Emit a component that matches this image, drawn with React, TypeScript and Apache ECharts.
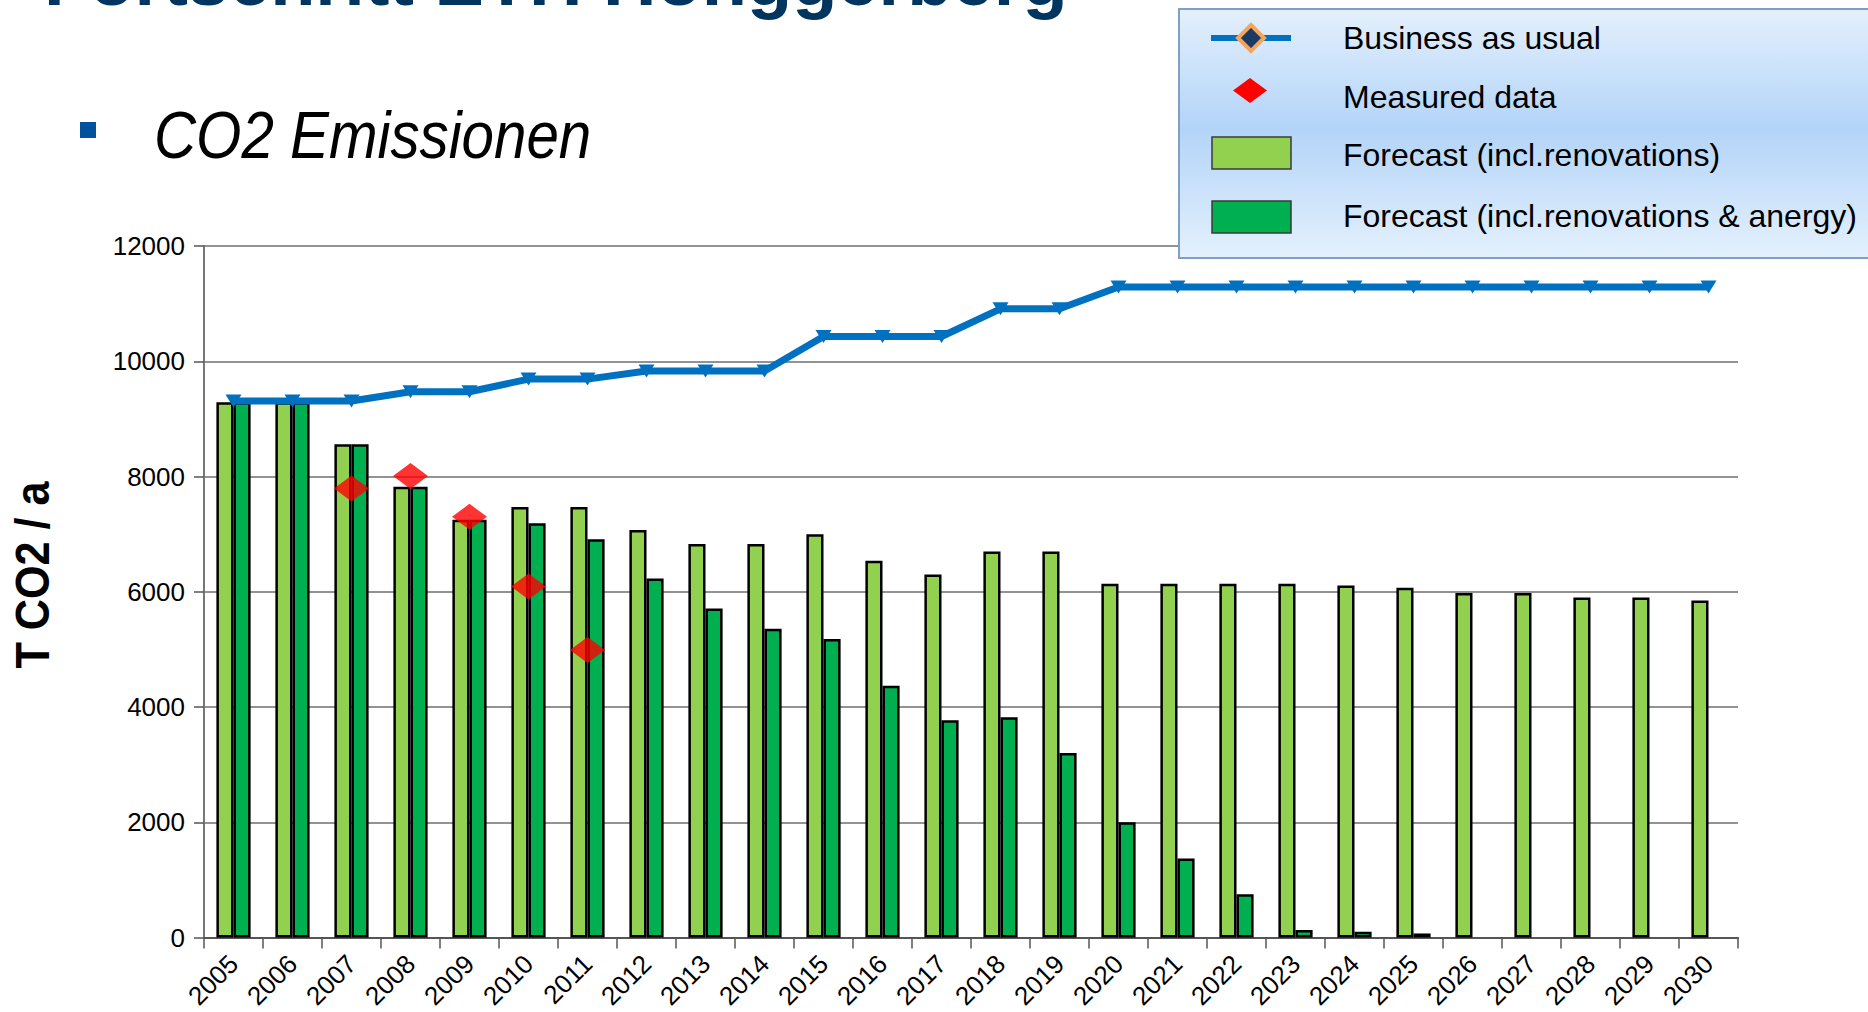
import React, { useEffect, useRef } from 'react';
import * as echarts from 'echarts';

const years = [
  '2005', '2006', '2007', '2008', '2009', '2010', '2011', '2012', '2013',
  '2014', '2015', '2016', '2017', '2018', '2019', '2020', '2021', '2022',
  '2023', '2024', '2025', '2026', '2027', '2028', '2029', '2030',
];

const businessAsUsual = [
  9310, 9310, 9310, 9470, 9470, 9690, 9690, 9830, 9830, 9830, 10430, 10430,
  10430, 10910, 10910, 11290, 11290, 11290, 11290, 11290, 11290, 11290, 11290,
  11290, 11290, 11290,
];

const forecastRenovations = [
  9290, 9290, 8560, 7820, 7250, 7470, 7470, 7070, 6830, 6830, 7000, 6540, 6300,
  6700, 6700, 6140, 6140, 6140, 6140, 6110, 6070, 5980, 5980, 5900, 5900, 5850,
];

const forecastAnergy = [
  9290, 9290, 8560, 7820, 7250, 7190, 6910, 6230, 5710, 5360, 5180, 4370, 3770,
  3820, 3200, 2000, 1370, 750, 130, 100, 70, 0, 0, 0, 0, 0,
];

const measuredData: (number | string)[] = [
  '-', '-', 7790, 8010, 7300, 6090, 4990, '-', '-', '-', '-', '-', '-', '-',
  '-', '-', '-', '-', '-', '-', '-', '-', '-', '-', '-', '-',
];

const seriesNames = [
  'Business as usual',
  'Measured data',
  'Forecast (incl.renovations)',
  'Forecast (incl.renovations & anergy)',
];

const FONT = '"Liberation Sans", Arial, Helvetica, sans-serif';
const BLUE = '#0070c0';
const LIGHT_GREEN = '#92d050';
const DARK_GREEN = '#00b050';
const RED = '#ff0000';

export default function App() {
  const ref = useRef<HTMLDivElement>(null);

  useEffect(() => {
    document.body.style.margin = '0';
    const chart = echarts.init(ref.current as HTMLDivElement, null, { renderer: 'svg' });

    const legendTextX = 1343;
    const legendRows = [38, 97, 155, 216];

    chart.setOption({
      animation: false,
      backgroundColor: '#ffffff',
      textStyle: { fontFamily: FONT },
      grid: {
        left: 204,
        right: 130,
        top: 246,
        bottom: 74.5,
        containLabel: false,
        outerBoundsMode: 'none',
      },
      xAxis: {
        type: 'category',
        data: years,
        boundaryGap: true,
        axisLine: { show: true, lineStyle: { color: '#555555', width: 2 } },
        axisTick: { show: true, length: 11, lineStyle: { color: '#555555', width: 1.5 } },
        axisLabel: {
          rotate: 45,
          margin: 22,
          color: '#000000',
          fontSize: 26,
          fontFamily: FONT,
          interval: 0,
        },
        splitLine: { show: false },
      },
      yAxis: {
        type: 'value',
        min: 0,
        max: 12000,
        interval: 2000,
        axisLine: { show: true, lineStyle: { color: '#777777', width: 2 } },
        axisTick: { show: true, length: 10, lineStyle: { color: '#555555', width: 1.5 } },
        axisLabel: {
          margin: 19,
          color: '#000000',
          fontSize: 26,
          fontFamily: FONT,
          formatter: (v: number) => String(v),
        },
        splitLine: { show: true, lineStyle: { color: '#6e6e6e', width: 1.5 } },
      },
      series: [
        {
          name: seriesNames[2],
          type: 'bar',
          data: forecastRenovations,
          barGap: '0%',
          barCategoryGap: '42%',
          itemStyle: { color: LIGHT_GREEN, borderColor: '#000000', borderWidth: 2.5 },
          emphasis: { disabled: true },
          z: 2,
        },
        {
          name: seriesNames[3],
          type: 'bar',
          data: forecastAnergy.map((v) => (v === 0 ? '-' : v)),
          barGap: '0%',
          barCategoryGap: '42%',
          itemStyle: { color: DARK_GREEN, borderColor: '#000000', borderWidth: 2.5 },
          emphasis: { disabled: true },
          z: 2,
        },
        {
          name: seriesNames[0],
          type: 'line',
          data: businessAsUsual,
          symbol: 'triangle',
          symbolRotate: 180,
          symbolSize: [16, 13],
          showAllSymbol: true,
          lineStyle: { color: BLUE, width: 7 },
          itemStyle: { color: BLUE, borderColor: BLUE, borderWidth: 0 },
          emphasis: { disabled: true },
          z: 5,
        },
        {
          name: seriesNames[1],
          type: 'scatter',
          data: measuredData,
          symbol: 'diamond',
          symbolSize: [35, 26],
          itemStyle: { color: RED },
          emphasis: { disabled: true },
          z: 6,
        },
      ],
      graphic: [
        {
          type: 'text',
          x: 44,
          y: 5 - 0.3465 * 74,
          z: 100,
          style: {
            text: 'Fortschritt ETH Hönggerberg',
            fontFamily: FONT,
            fontWeight: 'bold',
            fontSize: 74,
            fill: '#003560',
            align: 'left',
            verticalAlign: 'middle',
          },
        },
        {
          type: 'rect',
          z: 100,
          shape: { x: 80, y: 122, width: 16, height: 16 },
          style: { fill: '#00529c' },
        },
        {
          type: 'text',
          x: 154,
          y: 158 - 0.3465 * 67,
          scaleX: 0.87,
          z: 100,
          style: {
            text: 'CO2 Emissionen',
            fontFamily: FONT,
            fontStyle: 'italic',
            fontSize: 67,
            fill: '#000000',
            align: 'left',
            verticalAlign: 'middle',
          },
        },
        {
          type: 'text',
          x: 33,
          y: 575,
          rotation: Math.PI / 2,
          scaleX: 0.9,
          z: 100,
          style: {
            text: 'T CO2 / a',
            fontFamily: FONT,
            fontWeight: 'bold',
            fontSize: 48,
            fill: '#000000',
            align: 'center',
            verticalAlign: 'middle',
          },
        },
        {
          type: 'rect',
          z: 100,
          shape: { x: 1179, y: 9, width: 720, height: 249 },
          style: {
            fill: {
              type: 'linear',
              x: 0,
              y: 0,
              x2: 0,
              y2: 1,
              colorStops: [
                { offset: 0, color: '#e4f0fc' },
                { offset: 0.48, color: '#b3d4f8' },
                { offset: 1, color: '#e4f1fd' },
              ],
            },
            stroke: '#7f9fc4',
            lineWidth: 2,
          },
        },
        {
          type: 'line',
          z: 101,
          shape: { x1: 1211, y1: legendRows[0], x2: 1291, y2: legendRows[0] },
          style: { stroke: BLUE, lineWidth: 6 },
        },
        {
          type: 'polygon',
          z: 102,
          shape: {
            points: [
              [1251, legendRows[0] - 13],
              [1264, legendRows[0]],
              [1251, legendRows[0] + 13],
              [1238, legendRows[0]],
            ],
          },
          style: { fill: '#1c3a62', stroke: '#f4a55c', lineWidth: 4 },
        },
        {
          type: 'polygon',
          z: 101,
          shape: {
            points: [
              [1250, 78],
              [1267, 90.5],
              [1250, 103],
              [1233, 90.5],
            ],
          },
          style: { fill: RED },
        },
        {
          type: 'rect',
          z: 101,
          shape: { x: 1212, y: 137, width: 79, height: 32 },
          style: { fill: LIGHT_GREEN, stroke: '#3a3a3a', lineWidth: 1.5 },
        },
        {
          type: 'rect',
          z: 101,
          shape: { x: 1212, y: 201, width: 79, height: 32 },
          style: { fill: DARK_GREEN, stroke: '#3a3a3a', lineWidth: 1.5 },
        },
        ...seriesNames.map((name, i) => ({
          type: 'text',
          x: legendTextX,
          y: legendRows[i],
          z: 101,
          style: {
            text: name,
            fontFamily: FONT,
            fontSize: 32,
            fill: '#000000',
            align: 'left',
            verticalAlign: 'middle',
          },
        })),
      ],
    });

    return () => {
      chart.dispose();
    };
  }, []);

  return (
    <div
      ref={ref}
      style={{
        position: 'fixed',
        left: 0,
        top: 0,
        width: '1868px',
        height: '1012px',
        background: '#ffffff',
      }}
    />
  );
}
